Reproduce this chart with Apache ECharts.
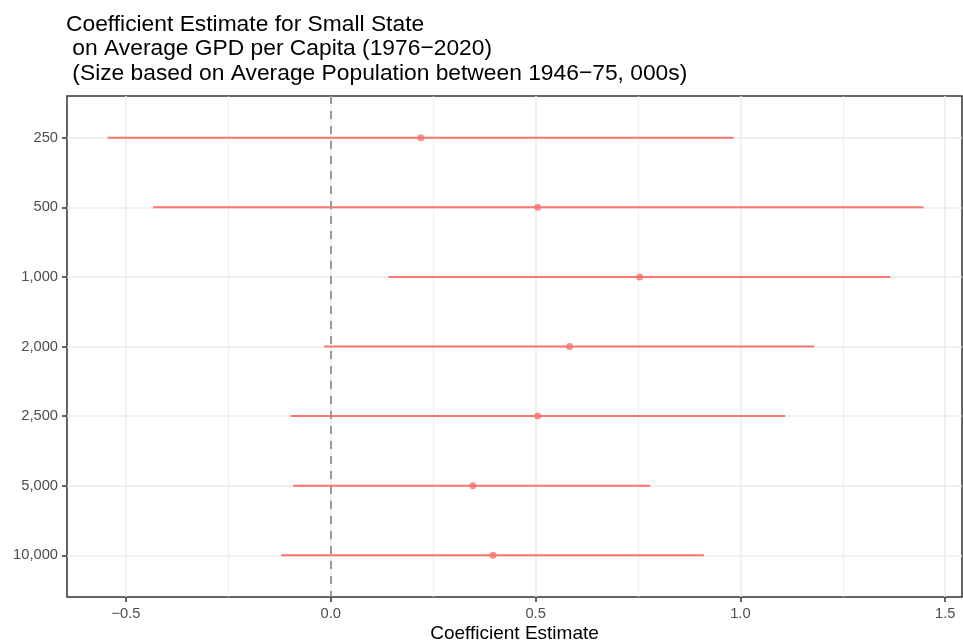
<!DOCTYPE html>
<html>
<head>
<meta charset="utf-8">
<script src="https://cdn.jsdelivr.net/npm/echarts@6/dist/echarts.min.js"></script>
<style>html,body{margin:0;padding:0;background:#fff}#c{width:963px;height:641px}</style>
</head>
<body>
<div id="c"></div>
<script>
const categories = ['250', '500', '1,000', '2,000', '2,500', '5,000', '10,000'];
const estimates = [0.220, 0.505, 0.754, 0.583, 0.505, 0.347, 0.396];
const lower = [-0.545, -0.434, 0.141, -0.016, -0.098, -0.092, -0.121];
const upper = [0.983, 1.447, 1.366, 1.180, 1.109, 0.780, 0.911];
const xTicks = [-0.5, 0, 0.5, 1.0, 1.5];
const xMinor = [-0.25, 0.25, 0.75, 1.25];

const FONT = 'Liberation Sans, Arial, Helvetica, sans-serif';
const RED = '#F8766D';
const yPos = categories.map((c, i) => i + 1);

const chart = echarts.init(document.getElementById('c'), null, {renderer: 'canvas'});
chart.setOption({
  animation: false,
  backgroundColor: '#fff',
  title: {
    text: 'Coefficient Estimate for Small State\n on Average GPD per Capita (1976\u22122020)\n (Size based on Average Population between 1946\u221275, 000s)',
    left: 66, top: 12, padding: 0,
    textStyle: {fontFamily: FONT, fontSize: 22.8, fontWeight: 'normal', color: '#000', lineHeight: 24.5}
  },
  grid: {left: 67, right: 1, top: 96, bottom: 44, show: true, borderColor: '#333', borderWidth: 1.5,
    containLabel: false, outerBoundsMode: 'none'},
  xAxis: [{
    type: 'value', min: -0.644, max: 1.541,
    name: 'Coefficient Estimate', nameLocation: 'middle', nameGap: 27, nameMoveOverlap: false,
    nameTextStyle: {fontFamily: FONT, fontSize: 19, color: '#000'},
    axisLine: {show: false, onZero: false},
    axisTick: {show: true, customValues: xTicks, length: 5, lineStyle: {color: '#333', width: 1.5}},
    axisLabel: {customValues: xTicks, fontFamily: FONT, fontSize: 14.7, color: '#4d4d4d', margin: 9,
      formatter: v => (v < 0 ? '\u2212' : '') + Math.abs(v).toFixed(1)},
    splitLine: {show: true, lineStyle: {color: '#ebebeb', width: 1.5}}
  }, {
    type: 'value', min: -0.644, max: 1.541, position: 'bottom',
    axisLine: {show: false, onZero: false},
    axisTick: {show: false, customValues: xMinor},
    axisLabel: {show: false, customValues: xMinor},
    splitLine: {show: true, lineStyle: {color: '#ebebeb', width: 0.8}}
  }],
  yAxis: {
    type: 'value', min: 0.4, max: 7.6, inverse: true,
    axisLine: {show: false, onZero: false},
    axisTick: {show: true, customValues: yPos, length: 5, lineStyle: {color: '#333', width: 1.5}},
    axisLabel: {customValues: yPos, fontFamily: FONT, fontSize: 14.7, color: '#4d4d4d', margin: 9,
      formatter: v => categories[Math.round(v) - 1] || ''},
    splitLine: {show: true, lineStyle: {color: '#ebebeb', width: 1.5}}
  },
  series: [{
    type: 'custom',
    xAxisIndex: 0,
    data: categories.map((c, i) => [lower[i], upper[i], i + 1]),
    renderItem: (params, api) => {
      const p1 = api.coord([api.value(0), api.value(2)]);
      const p2 = api.coord([api.value(1), api.value(2)]);
      return {type: 'line', shape: {x1: p1[0], y1: p1[1], x2: p2[0], y2: p2[1]},
        style: {stroke: RED, lineWidth: 2}};
    },
    encode: {x: [0, 1], y: 2},
    z: 3,
    markLine: {
      silent: true, symbol: 'none', label: {show: false},
      lineStyle: {color: '#999999', type: [8, 7], width: 2},
      data: [{xAxis: 0}]
    }
  }, {
    type: 'scatter',
    xAxisIndex: 0,
    data: categories.map((c, i) => [estimates[i], i + 1]),
    symbol: 'circle', symbolSize: 7,
    itemStyle: {color: RED},
    z: 4
  }]
});
</script>
</body>
</html>
